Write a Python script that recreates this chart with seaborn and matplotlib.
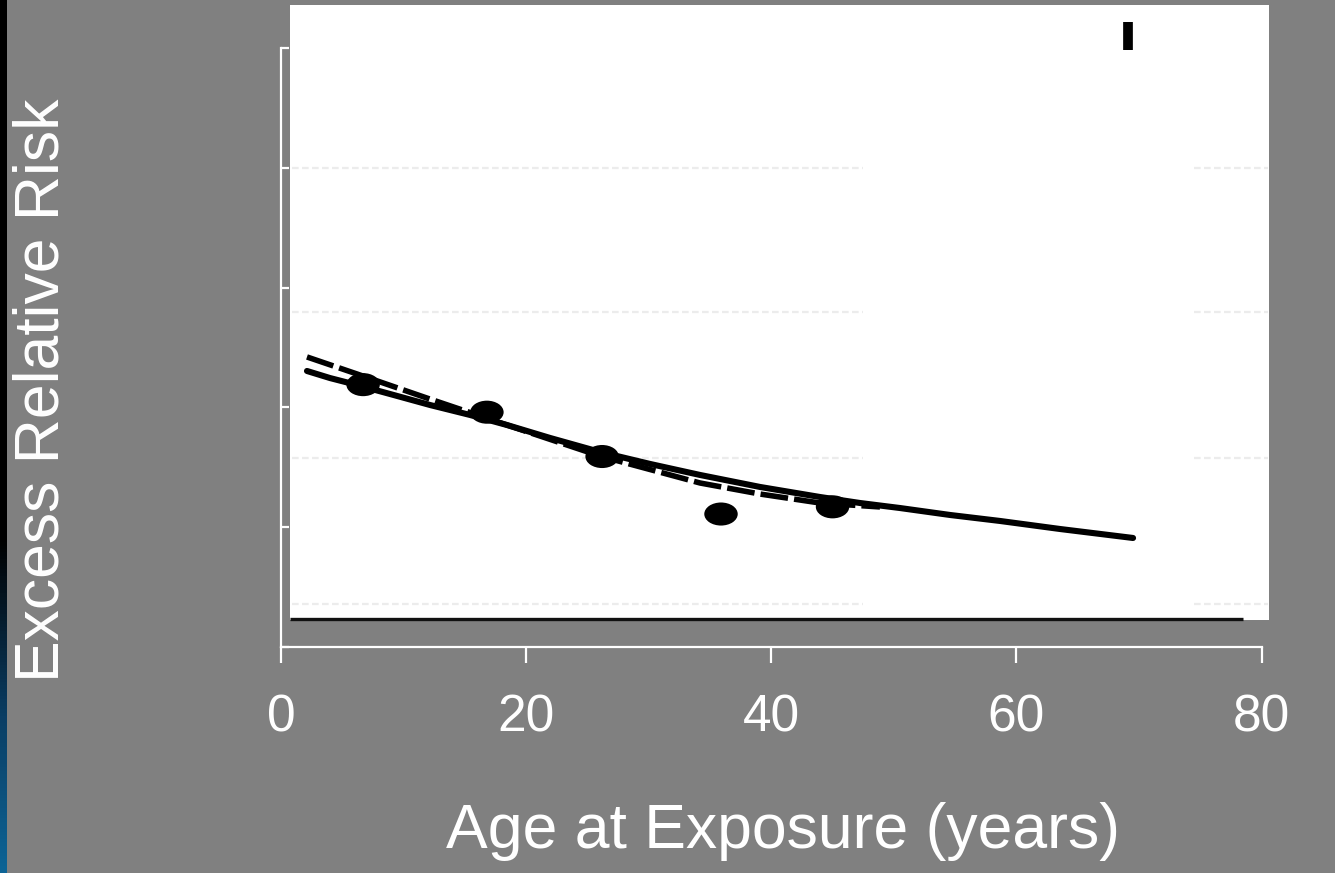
import numpy as np
import pandas as pd
import matplotlib
matplotlib.use("Agg")
import matplotlib.pyplot as plt
from matplotlib.patches import Rectangle
from matplotlib.path import Path
from matplotlib.transforms import Affine2D
from matplotlib.colors import LinearSegmentedColormap
import seaborn as sns

# ---------------- data ----------------
solid_age = [2.12, 4.00, 6.20, 8.89, 12.16, 15.42, 18.44, 21.95, 26.03, 30.11,
             34.19, 39.08, 43.98, 47.24, 50.51, 54.59, 58.67, 63.56, 69.52]
solid_err = [2.304, 2.245, 2.187, 2.112, 2.020, 1.937, 1.853, 1.745, 1.628, 1.528,
             1.436, 1.336, 1.252, 1.202, 1.160, 1.102, 1.052, 0.985, 0.910]

dashed_age = [2.12, 6.20, 11.91, 18.44, 26.03, 34.19, 39.08, 43.98, 48.87]
dashed_err = [2.421, 2.279, 2.078, 1.853, 1.594, 1.369, 1.277, 1.202, 1.169]

point_age = [6.7, 16.8, 26.2, 35.9, 45.0]
point_err = [2.19, 1.96, 1.59, 1.11, 1.17]

mark_age = [69.1, 69.1]          # small vertical mark at top right
mark_err = [4.98, 5.22]

ghost_levels = [4.0, 2.80, 1.58, 0.36]   # faint scan lines in the image

x_ticks = [0, 20, 40, 60, 80]
x_tick_labels = ["0", "20", "40", "60", "80"]
y_ticks = [0, 1, 2, 3, 4, 5]

x_label = "Age at Exposure (years)"
y_label = "Excess Relative Risk"

# ---------------- style ----------------
sns.set_theme(style="white")
plt.rcParams["font.family"] = ["Liberation Sans", "DejaVu Sans"]

W, H = 1335, 873
BG = "#808080"
fig = plt.figure(figsize=(W / 100, H / 100), dpi=100, facecolor=BG)

# decorative edge strips (black top, black->blue left)
top = fig.add_axes([0, 1 - 3.5 / H, 1, 3.5 / H])
top.set_facecolor("black"); top.axis("off")
left = fig.add_axes([0, 0, 6 / W, 1])
grad = np.linspace(0, 1, 256)[:, None]
cmap = LinearSegmentedColormap.from_list(
    "edge", [(0, "#000000"), (0.62, "#000000"), (0.82, "#0a3d63"), (1, "#0d6496")])
left.imshow(grad, aspect="auto", cmap=cmap, extent=[0, 1, 1, 0])
left.axis("off")

# main axes: x 0..80 -> px 281..1261.5, y 0..5 -> px 647..48
px_per_x = (1261.5 - 281) / 80
px_per_y = (647 - 48) / 5
xmax, ymax = 81.0, 5.40
ax = fig.add_axes([281 / W, (H - 647) / H, xmax * px_per_x / W, ymax * px_per_y / H])
ax.set_facecolor("none")
ax.set_xlim(0, xmax)
ax.set_ylim(0, ymax)

# white scanned-figure panel
ax.add_patch(Rectangle((0.73, 0.225), 80.6 - 0.73, 5.36 - 0.225, facecolor="white",
                       edgecolor="none", zorder=0.5))
ax.plot([0.73, 78.5], [0.235, 0.235], color="#111111", lw=2.4, zorder=0.6,
        solid_capstyle="butt")
for lv in ghost_levels:
    ax.plot([0.9, 47.5], [lv, lv], color="#ececec", lw=1.6, ls=(0, (3, 1.5)), zorder=0.7)
    ax.plot([74.5, 80.5], [lv, lv], color="#ececec", lw=1.6, ls=(0, (3, 1.5)), zorder=0.7)

# curves
sns.lineplot(x=solid_age, y=solid_err, color="black", lw=4.4, estimator=None,
             sort=False, ax=ax, zorder=3)
ax.lines[-1].set_solid_joinstyle("round")
sns.lineplot(x=dashed_age, y=dashed_err, color="black", lw=4.0, estimator=None,
             sort=False, ax=ax, zorder=3, linestyle=(0, (5, 1.1)))

# elliptical markers
ell = Path.unit_circle().transformed(Affine2D().scale(1.45, 1.0))
sns.scatterplot(x=point_age, y=point_err, marker=ell, s=580, color="black",
                edgecolor="none", ax=ax, zorder=4)

# small mark at top right
sns.lineplot(x=mark_age, y=mark_err, color="black", lw=7, estimator=None,
             sort=False, ax=ax, zorder=4)
ax.lines[-1].set_solid_capstyle("butt")

# axes styling
for s in ["top", "right"]:
    ax.spines[s].set_visible(False)
for s in ["left", "bottom"]:
    ax.spines[s].set_color("white")
    ax.spines[s].set_linewidth(1.6)
ax.spines["bottom"].set_bounds(0, 80)
ax.spines["left"].set_bounds(0, 5)
ax.set_xticks(x_ticks)
ax.set_xticklabels(x_tick_labels)
ax.set_yticks(y_ticks)
ax.set_yticklabels([])
ax.tick_params(axis="x", direction="out", length=11.5, width=1.6, colors="white",
               labelsize=37, pad=22, bottom=True)
ax.tick_params(axis="y", direction="in", length=6, width=1.6, colors="white", left=True)
ax.set_xlabel("")
ax.set_ylabel("")

fig.text(783 / W, 1 - 848 / H, x_label, color="white", fontsize=45,
         ha="center", va="baseline")
fig.text(42 / W, 1 - 390 / H, y_label, color="white", fontsize=45,
         ha="center", va="center", rotation=90)

fig.savefig("out.png", dpi=100, facecolor=BG)
